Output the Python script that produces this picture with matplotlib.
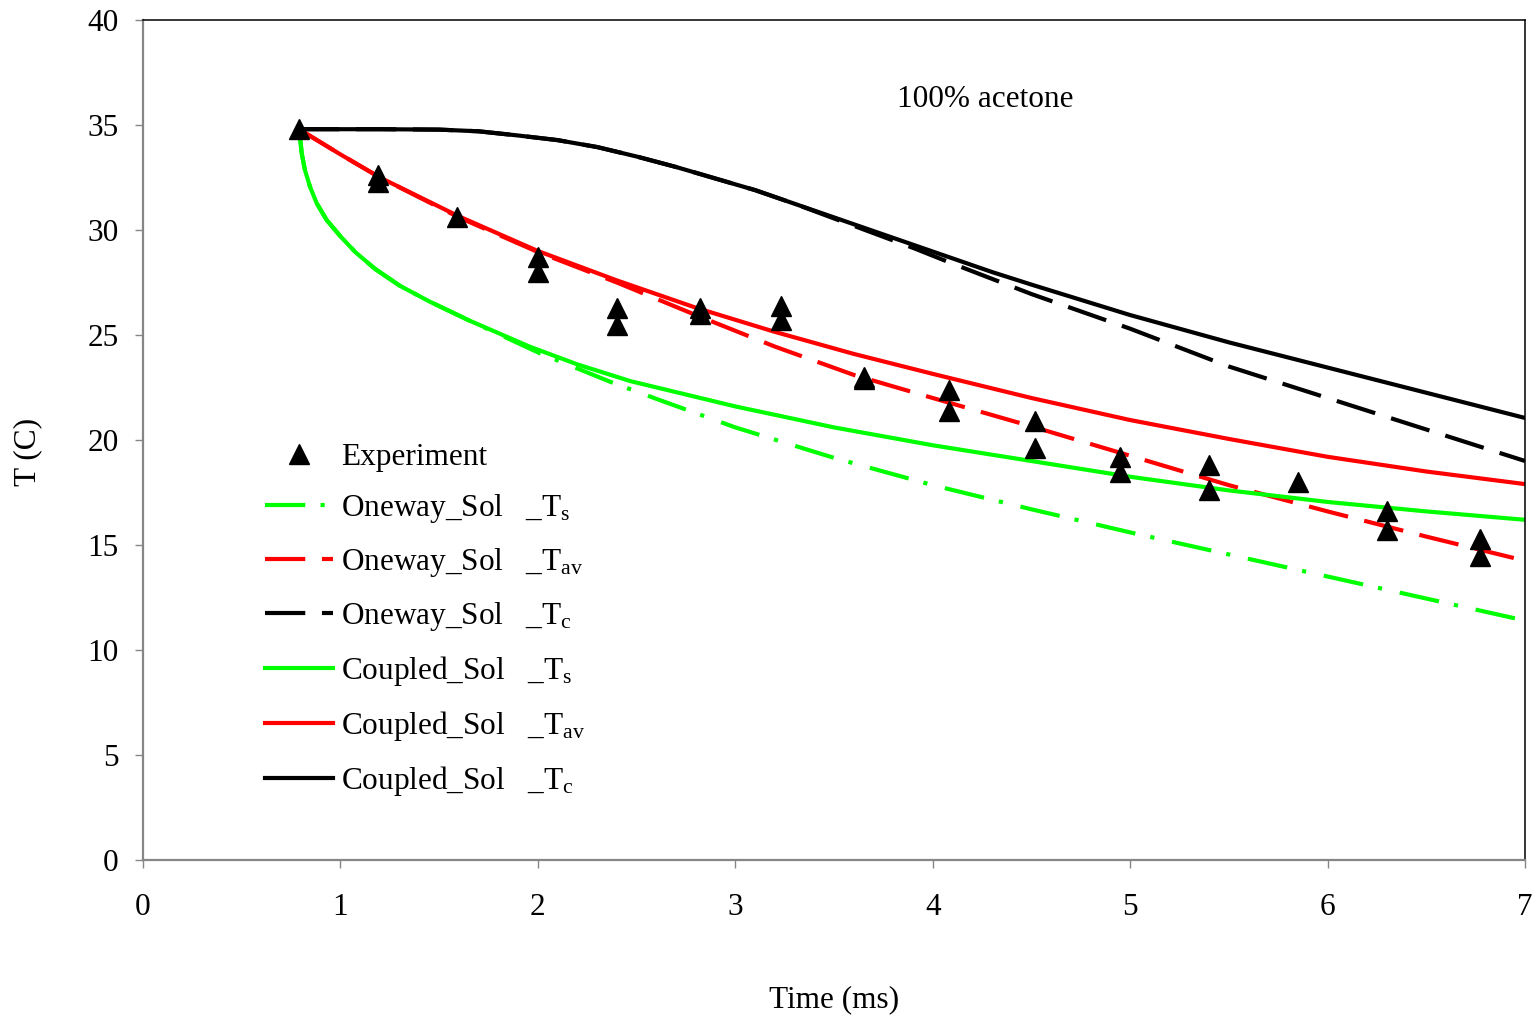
import matplotlib
matplotlib.use("Agg")
import matplotlib.pyplot as plt

plt.rcParams['font.family'] = ['Liberation Serif', 'DejaVu Serif']
plt.rcParams['mathtext.fontset'] = 'custom'
plt.rcParams['mathtext.rm'] = 'Liberation Serif'
plt.rcParams['mathtext.it'] = 'Liberation Serif:italic'
plt.rcParams['lines.scale_dashes'] = False

# ---------------- data ----------------
exp_t = [0.79, 1.19, 1.19, 1.59, 2.00, 2.00, 2.40, 2.40, 2.82, 2.82, 3.23, 3.23,
         3.65, 3.65, 4.08, 4.08, 4.52, 4.52, 4.95, 4.95, 5.40, 5.40, 5.85,
         6.30, 6.30, 6.77, 6.77]
exp_T = [34.8, 32.6, 32.3, 30.6, 28.7, 28.0, 26.3, 25.5, 26.3, 26.0, 26.4, 25.7,
         23.0, 22.9, 22.4, 21.4, 20.9, 19.6, 19.2, 18.5, 18.8, 17.6, 18.0,
         16.6, 15.7, 15.3, 14.5]

# Oneway_Sol _Ts (green dash-dot)
ow_ts_t = [0.79, 0.795, 0.804, 0.82, 0.846, 0.88, 0.93, 1.0, 1.075, 1.175, 1.3, 1.45,
           1.65, 2.01, 2.37, 2.6, 3.0, 3.5, 4.0, 4.5, 5.0, 5.5, 6.0, 6.5, 7.0]
ow_ts_T = [34.8, 34.45, 33.65, 32.86, 32.06, 31.27, 30.48, 29.7, 28.95, 28.15, 27.35, 26.6,
           25.7, 24.13, 22.76, 21.96, 20.6, 19.15, 17.85, 16.7, 15.6, 14.55, 13.5, 12.45, 11.4]

# Oneway_Sol _Tav (red dashed)
ow_tav_t = [0.79, 1.0, 1.2, 1.6, 2.0, 2.4, 2.8, 3.2, 3.6, 4.0, 4.5, 5.0, 5.5, 6.0, 6.5, 7.0]
ow_tav_T = [34.8, 33.6, 32.5, 30.6, 28.95, 27.5, 25.95, 24.45, 23.1, 22.0, 20.65, 19.25,
            17.85, 16.6, 15.4, 14.25]

# Oneway_Sol _Tc (black dashed)
ow_tc_t = [0.79, 1.2, 1.5, 1.7, 1.9, 2.1, 2.3, 2.5, 2.7, 2.9, 3.1, 3.3, 3.5, 3.7, 3.9,
           4.1, 4.5, 5.0, 5.5, 6.0, 6.5, 7.0]
ow_tc_T = [34.8, 34.8, 34.78, 34.7, 34.5, 34.28, 33.95, 33.5, 33.0, 32.45, 31.9, 31.25,
           30.55, 29.85, 29.15, 28.4, 26.95, 25.3, 23.5, 22.0, 20.5, 19.0]

# Coupled_Sol _Ts (green solid)
cp_ts_t = [0.79, 0.795, 0.804, 0.82, 0.846, 0.88, 0.93, 1.0, 1.075, 1.175, 1.3, 1.45,
           1.65, 1.96, 2.2, 2.47, 3.0, 3.5, 4.0, 4.5, 5.0, 5.5, 6.0, 6.5, 7.0]
cp_ts_T = [34.8, 34.45, 33.65, 32.86, 32.06, 31.27, 30.48, 29.7, 28.95, 28.15, 27.35, 26.6,
           25.7, 24.44, 23.6, 22.8, 21.6, 20.6, 19.75, 19.0, 18.25, 17.6, 17.05, 16.6, 16.2]

# Coupled_Sol _Tav (red solid)
cp_tav_t = [0.79, 1.0, 1.2, 1.6, 2.0, 2.4, 2.8, 3.2, 3.6, 4.0, 4.5, 5.0, 5.5, 6.0, 6.5, 7.0]
cp_tav_T = [34.8, 33.6, 32.5, 30.65, 29.0, 27.6, 26.3, 25.15, 24.1, 23.15, 22.0, 20.95,
            20.05, 19.2, 18.5, 17.9]

# Coupled_Sol _Tc (black solid)
cp_tc_t = [0.79, 1.2, 1.5, 1.7, 1.9, 2.1, 2.3, 2.5, 2.7, 2.9, 3.1, 3.3, 3.5, 3.7, 3.9,
           4.1, 4.3, 4.5, 5.0, 5.5, 6.0, 6.5, 7.0]
cp_tc_T = [34.8, 34.8, 34.78, 34.7, 34.5, 34.28, 33.95, 33.5, 33.0, 32.45, 31.9, 31.25,
           30.6, 29.95, 29.3, 28.65, 28.0, 27.4, 25.95, 24.65, 23.45, 22.25, 21.05]

x_ticks = [0, 1, 2, 3, 4, 5, 6, 7]
y_ticks = [0, 5, 10, 15, 20, 25, 30, 35, 40]

# ---------------- plot ----------------
fig = plt.figure(figsize=(15.4, 10.19), dpi=100)
ax = fig.add_axes([143/1540, 1-860/1019, (1525-143)/1540, (860-20)/1019])

GREEN = '#00FF00'
RED = '#FF0000'
lw = 3.0
FS = 22.5

h_ow_ts, = ax.plot(ow_ts_t, ow_ts_T, color=GREEN, lw=lw, dashes=(29, 11, 3, 13),
                   label='Oneway_Sol   _T$_{\\mathrm{s}}$')
h_ow_tav, = ax.plot(ow_tav_t, ow_tav_T, color=RED, lw=lw, dashes=(29, 12),
                    label='Oneway_Sol   _T$_{\\mathrm{av}}$')
h_ow_tc, = ax.plot(ow_tc_t, ow_tc_T, color='black', lw=lw, dashes=(29, 12),
                   label='Oneway_Sol   _T$_{\\mathrm{c}}$')
h_cp_ts, = ax.plot(cp_ts_t, cp_ts_T, color=GREEN, lw=lw, label='Coupled_Sol   _T$_{\\mathrm{s}}$')
h_cp_tav, = ax.plot(cp_tav_t, cp_tav_T, color=RED, lw=lw, label='Coupled_Sol   _T$_{\\mathrm{av}}$')
h_cp_tc, = ax.plot(cp_tc_t, cp_tc_T, color='black', lw=lw, label='Coupled_Sol   _T$_{\\mathrm{c}}$')
h_exp, = ax.plot(exp_t, exp_T, linestyle='none', marker='^', color='black', markersize=14,
                 label='Experiment', zorder=5)

ax.set_xlim(0, 7)
ax.set_ylim(0, 40)
ax.set_xticks(x_ticks)
ax.set_yticks(y_ticks)
ax.tick_params(axis='x', direction='out', length=6, width=1, color='#868686',
               pad=18, labelsize=FS)
ax.tick_params(axis='y', direction='out', length=6, width=1, color='#868686',
               pad=11.5, labelsize=FS)

for s in ['left', 'bottom']:
    ax.spines[s].set_color('#868686')
    ax.spines[s].set_linewidth(1.6)
for s in ['top', 'right']:
    ax.spines[s].set_color('black')
    ax.spines[s].set_linewidth(1.1)

ax.set_xlabel('Time (ms)', fontsize=FS, va='center')
ax.xaxis.set_label_coords(0.5, -0.1667)
ax.set_ylabel('T (C)', fontsize=FS, va='center')
ax.yaxis.set_label_coords(-0.0832, 0.486)

ax.text(4.265, 36.2, '100% acetone', fontsize=FS, ha='center', va='center')

leg = ax.legend(handles=[h_exp, h_ow_ts, h_ow_tav, h_ow_tc, h_cp_ts, h_cp_tav, h_cp_tc],
                loc='upper left', bbox_to_anchor=(0.0883, 0.497), frameon=False,
                fontsize=FS, handlelength=2.18, handletextpad=0.26, labelspacing=0.667,
                borderaxespad=0, borderpad=0)

fig.savefig('out.png', dpi=100)
